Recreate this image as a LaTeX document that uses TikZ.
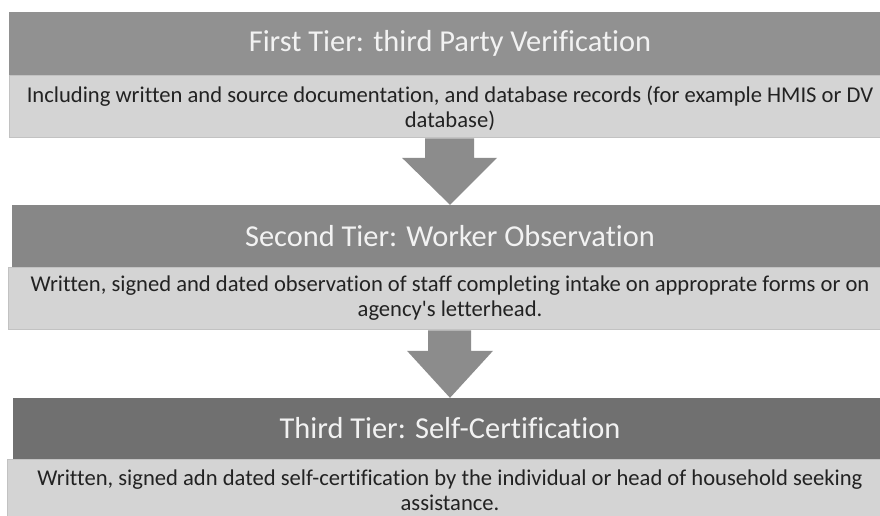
\documentclass[tikz,border=0pt]{standalone}
\usepackage{fontspec}
\setmainfont{Carlito}[Ligatures={NoCommon}]
\usetikzlibrary{calc}
\definecolor{hone}{HTML}{919191}
\definecolor{htwo}{HTML}{878787}
\definecolor{hthree}{HTML}{707070}
\definecolor{bodyfill}{HTML}{D4D4D4}
\definecolor{bodyedge}{HTML}{C2C2C2}
\definecolor{arrowfill}{HTML}{8C8C8C}
\definecolor{headtext}{HTML}{F2F2F2}
\definecolor{bodytext}{HTML}{222222}
\begin{document}
\begin{tikzpicture}[x=1pt,y=-1pt,
  header/.style={rectangle, inner sep=0pt, minimum height=63pt, text=headtext,
    font=\fontsize{30.4}{35}\selectfont},
  bodybox/.style={rectangle, inner sep=0pt, fill=bodyfill, draw=bodyedge, line width=0.8pt,
    text=bodytext, align=center, font=\fontsize{22.6}{25}\selectfont},
  blockarrow/.style={fill=arrowfill}]
\useasboundingbox (0,0) rectangle (880,515);
\fill[white] (0,0) rectangle (880,515);
% tier 1
\node[header, fill=hone, minimum width=882pt, minimum height=63pt] (h1) at (450,43.5) {First Tier: third Party Verification};
\node[bodybox, minimum width=882pt, minimum height=62pt] (b1) at (450,106) {\rule{0pt}{21pt}Including written and source documentation, and database records (for example HMIS or DV\\database)};
% tier 2
\node[header, fill=htwo, minimum width=876pt, minimum height=62pt] (h2) at (450,236) {Second Tier: Worker Observation};
\node[bodybox, minimum width=884pt, minimum height=62pt] (b2) at (450,298) {Written, signed and dated observation of staff completing intake on approprate forms or on\\agency\textquotesingle s letterhead.};
% tier 3
\node[header, fill=hthree, minimum width=874pt, minimum height=61pt] (h3) at (450,428.5) {Third Tier: Self-Certification};
\node[bodybox, minimum width=886pt, minimum height=62pt, anchor=north] (b3) at (450,459) {Written, signed adn dated self-certification by the individual or head of household seeking\\assistance.};
% arrows
\fill[blockarrow] let \p1=(b1.south), \p2=(h2.north) in
  (425pt,\y1-1pt) -- (474pt,\y1-1pt) -- (474pt,\y2+47pt) -- (497pt,\y2+47pt) -- (450pt,\y2)
  -- (402pt,\y2+47pt) -- (425pt,\y2+47pt) -- cycle;
\fill[blockarrow] let \p1=(b2.south), \p2=(h3.north) in
  (428pt,\y1-1pt) -- (471pt,\y1-1pt) -- (471pt,\y2+47pt) -- (493pt,\y2+47pt) -- (450pt,\y2)
  -- (407pt,\y2+47pt) -- (428pt,\y2+47pt) -- cycle;
\end{tikzpicture}
\end{document}
